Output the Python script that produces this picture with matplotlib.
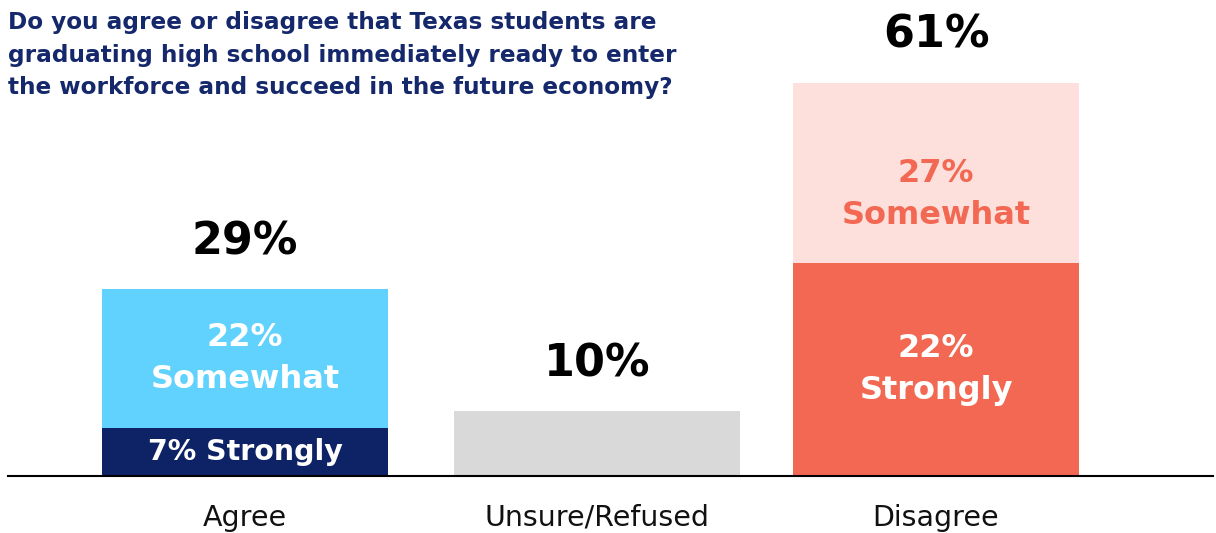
import matplotlib
matplotlib.use('Agg')
import matplotlib.pyplot as plt

categories = ['Agree', 'Unsure/Refused', 'Disagree']
totals = [29, 10, 61]
total_labels = ['29%', '10%', '61%']

# stacked segments as drawn (bottom, top); Unsure has a single segment
bottom_vals = [7.5, 10, 33]
top_vals = [21.5, 0, 28]
bottom_labels = ['7% Strongly', '', '22%\nStrongly']
top_labels = ['22%\nSomewhat', '', '27%\nSomewhat']

bottom_colors = ['#0e2266', '#d9d9d9', '#f26852']
top_colors = ['#60d2fd', '#d9d9d9', '#fde0dc']
top_text_colors = ['white', 'white', '#f26852']

title = ('Do you agree or disagree that Texas students are\n'
         'graduating high school immediately ready to enter\n'
         'the workforce and succeed in the future economy?')

fig = plt.figure(figsize=(12.16, 5.33), dpi=100)
ax = fig.add_axes([0.0066, 0.107, 0.991, 0.847])

x = [0, 1.019, 2]
w = 0.828
ax.bar(x, bottom_vals, width=w, color=bottom_colors)
ax.bar(x, top_vals, width=w, bottom=bottom_vals, color=top_colors)

# the light disagree label sits a little below the middle of its segment
top_shift = [0, 0, -3.4]

for i in range(3):
    if bottom_labels[i]:
        fs = 20.5 if '\n' not in bottom_labels[i] else 23
        ax.text(x[i], bottom_vals[i] / 2, bottom_labels[i], ha='center', va='center',
                color='white', fontsize=fs, fontweight='bold', linespacing=1.45)
    if top_labels[i]:
        ax.text(x[i], bottom_vals[i] + top_vals[i] / 2 + top_shift[i], top_labels[i],
                ha='center', va='center', color=top_text_colors[i], fontsize=23,
                fontweight='bold', linespacing=1.45)
    ax.text(x[i], totals[i] + 7.3, total_labels[i], ha='center', va='center',
            fontsize=32, fontweight='bold', color='black', clip_on=False)

ax.set_xlim(-0.686, 2.802)
ax.set_ylim(0, 70)
ax.set_xticks(x)
ax.set_xticklabels(categories, fontsize=20.5, color='#111111')
ax.tick_params(axis='x', length=0, pad=20)
ax.set_yticks([])
for s in ['top', 'right', 'left']:
    ax.spines[s].set_visible(False)
ax.spines['bottom'].set_linewidth(1.5)

fig.text(0.0066, 0.98, title, ha='left', va='top', fontsize=16.7,
         fontweight='bold', color='#15286b', linespacing=1.55)

fig.savefig('out.png', dpi=100)
